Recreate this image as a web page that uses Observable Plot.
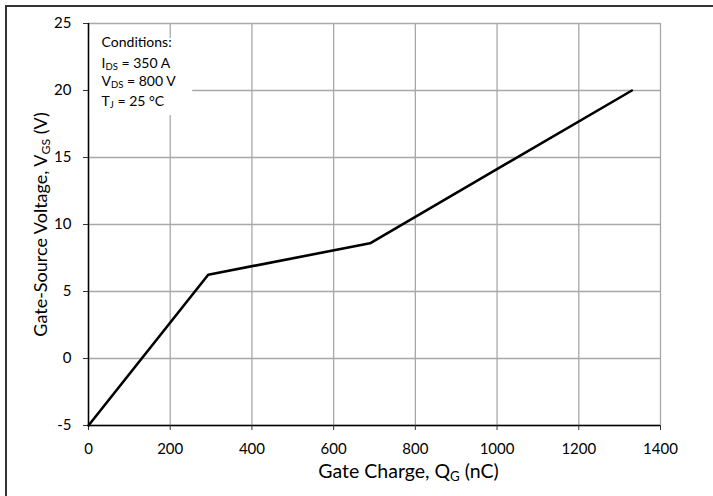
<!DOCTYPE html>
<html>
<head>
<meta charset="utf-8">
<script src="https://cdn.jsdelivr.net/npm/d3@7"></script>
<script src="https://cdn.jsdelivr.net/npm/@observablehq/plot@0.6"></script>
<style>
  html, body { margin: 0; padding: 0; background: #fff; }
  #wrap { position: relative; width: 713px; height: 496px; overflow: hidden; }
  #frame { position: absolute; left: 5px; top: 5px; width: 760px; height: 600px;
           border-top: 2.5px solid #333; border-left: 2.5px solid #333; pointer-events: none; }
</style>
</head>
<body>
<div id="wrap"><div id="frame"></div></div>
<script>
// Data
const gateCharge = [0, 293, 689, 1330];       // Q_G (nC)
const gateVoltage = [-5, 6.25, 8.6, 20];      // V_GS (V)
const xTicks = [0, 200, 400, 600, 800, 1000, 1200, 1400];
const yTicks = [-5, 0, 5, 10, 15, 20, 25];
const conditionLines = ["Conditions:", "I{DS} = 350 A", "V{DS} = 800 V", "T{J} = 25 °C"];
const conditionY = [23.55, 22.0, 20.65, 19.2];

const data = gateCharge.map((q, i) => ({q, v: gateVoltage[i]}));
const cond = conditionLines.map((t, i) => ({t, y: conditionY[i]}));

const font = "Lato, 'Open Sans', sans-serif";
const fmt = d => String(d);

const plot = Plot.plot({
  width: 713,
  height: 496,
  marginLeft: 88,
  marginRight: 53,
  marginTop: 23,
  marginBottom: 71,
  style: {fontFamily: font, fontSize: "15px", color: "#000", background: "#fff"},
  x: {domain: [0, 1400], ticks: xTicks},
  y: {domain: [-5, 25], ticks: yTicks},
  marks: [
    Plot.gridX(xTicks, {stroke: "#a8a8a8", strokeOpacity: 1, strokeWidth: 1.3}),
    Plot.gridY(yTicks, {stroke: "#a8a8a8", strokeOpacity: 1, strokeWidth: 1.3}),
    Plot.rect([{x1: 3, x2: 255, y1: 18.13, y2: 23.88}], {x1: "x1", x2: "x2", y1: "y1", y2: "y2", fill: "#fff"}),
    Plot.ruleX([0], {stroke: "#000", strokeWidth: 1.5}),
    Plot.ruleY([-5], {stroke: "#000", strokeWidth: 1.5}),
    Plot.axisX(xTicks, {tickSize: 5, tickPadding: 13, stroke: "#333", fontSize: 15, label: null, tickFormat: fmt}),
    Plot.axisY(yTicks, {tickSize: 5, tickPadding: 12, stroke: "#333", fontSize: 15, label: null, tickFormat: fmt}),
    Plot.line(data, {x: "q", y: "v", stroke: "#000", strokeWidth: 2.6}),
    Plot.text(cond, {x: 32, y: "y", text: "t", textAnchor: "start", fontSize: 14, fill: "#000"}),
    Plot.text(["Gate-Source Voltage, V{GS} (V)"], {frameAnchor: "left", dx: -47, rotate: -90, textAnchor: "middle", lineAnchor: "middle", fontSize: 18, fill: "#000"}),
    Plot.text(["Gate Charge, Q{G} (nC)"], {frameAnchor: "bottom", dx: 34, dy: 46, textAnchor: "middle", lineAnchor: "middle", fontSize: 19.5, fill: "#000"})
  ]
});

// Turn "X{sub}" markers into real subscript tspans
d3.select(plot).selectAll("text").each(function() {
  const el = this;
  const s = el.textContent;
  if (!/\{.+?\}/.test(s)) return;
  while (el.firstChild) el.removeChild(el.firstChild);
  const parts = s.split(/(\{.+?\})/);
  for (const p of parts) {
    if (!p) continue;
    const ts = document.createElementNS("http://www.w3.org/2000/svg", "tspan");
    if (p.startsWith("{")) {
      ts.textContent = p.slice(1, -1);
      ts.setAttribute("font-size", "68%");
      ts.setAttribute("baseline-shift", "-22%");
    } else {
      ts.textContent = p;
    }
    el.appendChild(ts);
  }
});

document.getElementById("wrap").prepend(plot);
</script>
</body>
</html>
